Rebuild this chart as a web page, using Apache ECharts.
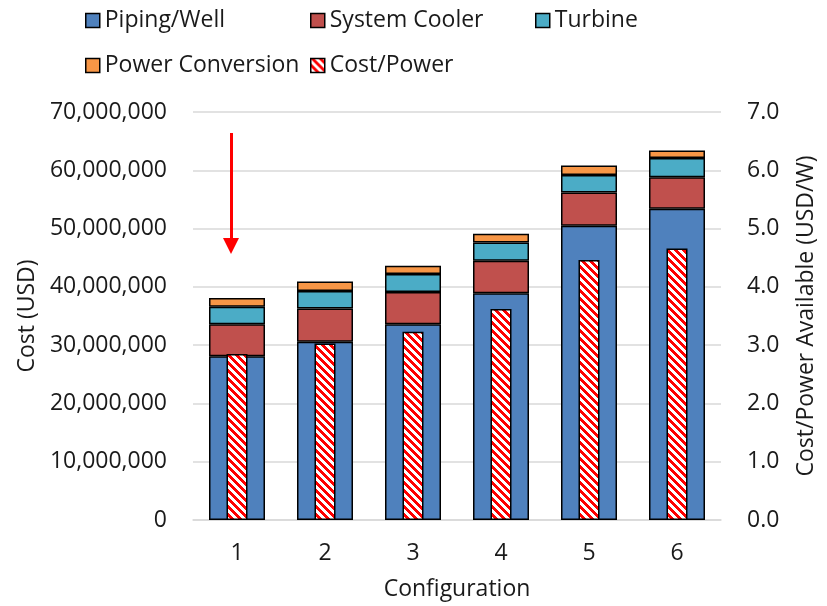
<!DOCTYPE html>
<html>
<head>
<meta charset="utf-8">
<script src="https://cdn.jsdelivr.net/npm/echarts@6/dist/echarts.min.js"></script>
<style>
html,body{margin:0;padding:0;background:#fff;}
#chart{width:827px;height:606px;}
</style>
</head>
<body>
<div id="chart"></div>
<script>
const categories = ['1', '2', '3', '4', '5', '6'];
const pipingWell = [28100000, 30600000, 33600000, 38900000, 50500000, 53400000];
const systemCooler = [5500000, 5700000, 5500000, 5600000, 5700000, 5400000];
const turbine = [3000000, 3000000, 3100000, 3100000, 3000000, 3300000];
const powerConversion = [1500000, 1600000, 1400000, 1500000, 1600000, 1300000];
const costPower = [2.85, 3.03, 3.23, 3.62, 4.46, 4.66];
const leftTicks = [0, 10000000, 70000000];
const rightTicks = [0, 1, 7];
const arrowX = -0.068;
const arrowCoords = [66400000, 47000000];

const FONT = 'Open Sans';
const TXT = '#1a1a1a';
const FS = 23;

// hatch pattern
const pc = document.createElement('canvas');
pc.width = 8; pc.height = 8;
const ctx = pc.getContext('2d');
ctx.fillStyle = '#ffffff';
ctx.fillRect(0, 0, 8, 8);
ctx.fillStyle = '#ff0000';
for (let y = 0; y < 8; y++) {
  for (let x = 0; x < 8; x++) {
    if ((((x - y) % 8) + 8) % 8 < 4) ctx.fillRect(x, y, 1, 1);
  }
}
const hatch = { image: pc, repeat: 'repeat' };

const chart = echarts.init(document.getElementById('chart'), null, { renderer: 'canvas' });

function fmtThousands(v) {
  return String(Math.round(v)).replace(/\B(?=(\d{3})+(?!\d))/g, ',');
}

const border = { borderColor: '#000', borderWidth: 1.5 };
const legendText = { fontFamily: FONT, fontSize: FS, color: TXT };
function lg(name, left, top) {
  return {
    data: [name], left: left, top: top, itemWidth: 14, itemHeight: 14,
    itemGap: 6, textStyle: legendText, icon: 'rect', selectedMode: false,
    itemStyle: { borderColor: '#000', borderWidth: 1.5 }, padding: 0
  };
}

const option = {
  backgroundColor: '#fff',
  animation: false,
  legend: [
    lg('Piping/Well', 85, 9),
    lg('System Cooler', 310, 9),
    lg('Turbine', 535, 9),
    lg('Power Conversion', 85, 54),
    lg('Cost/Power', 310, 54)
  ],
  grid: { left: 193, right: 106, top: 112, bottom: 86 },
  xAxis: [
    {
      type: 'category', data: categories,
      axisLine: { lineStyle: { color: '#d9d9d9', width: 1.5 } },
      axisTick: { show: false },
      axisLabel: { fontFamily: FONT, fontSize: FS, color: TXT, margin: 22 },
      name: 'Configuration', nameLocation: 'middle', nameGap: 58,
      nameTextStyle: { fontFamily: FONT, fontSize: FS, color: TXT }
    },
    { type: 'category', data: categories, show: false },
    { type: 'value', min: -0.5, max: categories.length - 0.5, show: false }
  ],
  yAxis: [
    {
      type: 'value', min: leftTicks[0], max: leftTicks[2], interval: leftTicks[1],
      axisLine: { show: false }, axisTick: { show: false },
      splitLine: { lineStyle: { color: '#d9d9d9', width: 1.5 } },
      axisLabel: { fontFamily: FONT, fontSize: FS, color: TXT, margin: 26, formatter: fmtThousands },
      name: 'Cost (USD)', nameLocation: 'middle', nameGap: 152, nameRotate: 90,
      nameTextStyle: { fontFamily: FONT, fontSize: FS, color: TXT }
    },
    {
      type: 'value', min: rightTicks[0], max: rightTicks[2], interval: rightTicks[1],
      axisLine: { show: false }, axisTick: { show: false }, splitLine: { show: false },
      axisLabel: { fontFamily: FONT, fontSize: FS, color: TXT, margin: 26, formatter: v => v.toFixed(1) },
      name: 'Cost/Power Available (USD/W)', nameLocation: 'middle', nameGap: 74, nameRotate: 90,
      nameTextStyle: { fontFamily: FONT, fontSize: FS, color: TXT }
    }
  ],
  series: [
    { name: 'Piping/Well', type: 'bar', stack: 'cost', data: pipingWell, barWidth: 56,
      itemStyle: Object.assign({ color: '#4f81bd' }, border) },
    { name: 'System Cooler', type: 'bar', stack: 'cost', data: systemCooler, barWidth: 56,
      itemStyle: Object.assign({ color: '#c0504d' }, border) },
    { name: 'Turbine', type: 'bar', stack: 'cost', data: turbine, barWidth: 56,
      itemStyle: Object.assign({ color: '#4bacc6' }, border) },
    { name: 'Power Conversion', type: 'bar', stack: 'cost', data: powerConversion, barWidth: 56,
      itemStyle: Object.assign({ color: '#f79646' }, border) },
    { name: 'Cost/Power', type: 'bar', xAxisIndex: 1, yAxisIndex: 1, data: costPower, barWidth: 21, z: 5,
      itemStyle: Object.assign({ color: hatch }, border) },
    { name: 'arrow', type: 'line', xAxisIndex: 2, yAxisIndex: 0, data: [], silent: true,
      markLine: {
        silent: true, symbol: ['none', 'triangle'], symbolSize: [16, 16],
        lineStyle: { color: '#ff0000', width: 3, type: 'solid' },
        label: { show: false },
        data: [[{ coord: [arrowX, arrowCoords[0]] }, { coord: [arrowX, arrowCoords[1]] }]]
      } }
  ]
};
chart.setOption(option);
</script>
</body>
</html>
